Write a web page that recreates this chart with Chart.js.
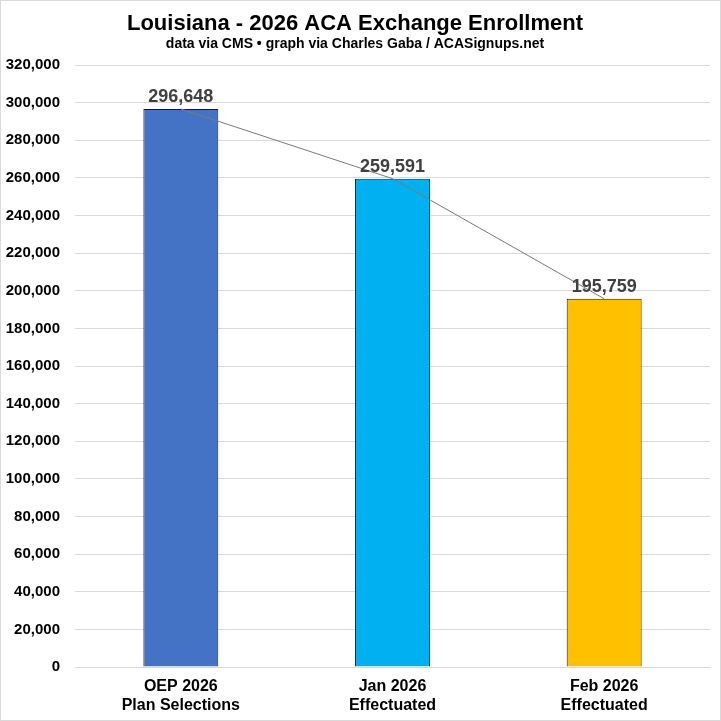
<!DOCTYPE html>
<html>
<head>
<meta charset="utf-8">
<script src="https://cdn.jsdelivr.net/npm/chart.js@4"></script>
<style>
  html, body { margin: 0; padding: 0; background: #fff; }
  #wrap { width: 721px; height: 721px; }
</style>
</head>
<body>
<div id="wrap"><canvas id="enrollment"></canvas></div>
<script>
const categories = [
    ['OEP 2026', 'Plan Selections'],
    ['Jan 2026', 'Effectuated'],
    ['Feb 2026', 'Effectuated']
];
const enrollment = [296648, 259591, 195759];
const yMax = 320000;
const yStep = 20000;

const barColors = ['#4472C4', '#00B0F0', '#FFC000'];
const FONT = '"Liberation Sans", Arial, sans-serif';

// white background + thin frame round the whole picture
const frame = {
    id: 'frame',
    beforeDraw(chart) {
        const ctx = chart.ctx;
        ctx.save();
        ctx.fillStyle = '#fff';
        ctx.fillRect(0, 0, chart.width, chart.height);
        ctx.restore();
    },
    afterDraw(chart) {
        const ctx = chart.ctx;
        ctx.save();
        ctx.strokeStyle = '#d9d9d9';
        ctx.lineWidth = 1;
        ctx.strokeRect(0.5, 0.5, chart.width - 1, chart.height - 1);
        ctx.restore();
    }
};

// value labels above each bar
const valueLabels = {
    id: 'valueLabels',
    afterDatasetsDraw(chart) {
        const meta = chart.getDatasetMeta(1);
        const ctx = chart.ctx;
        ctx.save();
        ctx.font = 'bold 18px ' + FONT;
        ctx.fillStyle = '#404040';
        ctx.textAlign = 'center';
        ctx.textBaseline = 'bottom';
        meta.data.forEach((bar, i) => {
            ctx.fillText(enrollment[i].toLocaleString('en-US'), bar.x, bar.y - 3);
        });
        ctx.restore();
    }
};

new Chart(
    document.getElementById('enrollment'),
    {
        data: {
            labels: categories,
            datasets: [
                {
                    type: 'line',
                    label: 'Trend',
                    data: enrollment,
                    borderColor: '#7a7a7a',
                    borderWidth: 1,
                    pointRadius: 0,
                    tension: 0,
                    order: 0
                },
                {
                    type: 'bar',
                    label: 'Enrollment',
                    data: enrollment,
                    backgroundColor: barColors,
                    borderColor: '#1a1a1a',
                    borderWidth: 1,
                    barPercentage: 0.354,
                    categoryPercentage: 1,
                    order: 1
                }
            ]
        },
        options: {
            responsive: true,
            maintainAspectRatio: false,
            animation: false,
            layout: {
                padding: { left: 0, right: 11, top: 0, bottom: 5.6 }
            },
            plugins: {
                legend: { display: false },
                tooltip: { enabled: false },
                title: {
                    display: true,
                    text: 'Louisiana - 2026 ACA Exchange Enrollment',
                    color: '#000',
                    font: { family: FONT, size: 22, weight: 'bold', lineHeight: 1.1 },
                    padding: { top: 12, bottom: 0 }
                },
                subtitle: {
                    display: true,
                    text: 'data via CMS \u2022 graph via Charles Gaba / ACASignups.net',
                    color: '#000',
                    font: { family: FONT, size: 14, weight: 'bold', lineHeight: 1.2 },
                    padding: { top: 0, bottom: 12 }
                }
            },
            scales: {
                x: {
                    afterFit(scale) { scale.height = 48.4; },
                    grid: { display: false, drawTicks: false },
                    border: { display: true, color: '#d9d9d9' },
                    ticks: {
                        color: '#000',
                        padding: 10,
                        maxRotation: 0,
                        font: { family: FONT, size: 16, weight: 'bold', lineHeight: 1.2 }
                    }
                },
                y: {
                    min: 0,
                    max: yMax,
                    afterFit(scale) { scale.width = 75; },
                    grid: { color: '#d9d9d9', drawTicks: false },
                    border: { display: false },
                    ticks: {
                        stepSize: yStep,
                        padding: 15,
                        color: '#000',
                        font: { family: FONT, size: 15, weight: 'bold' },
                        callback: v => v.toLocaleString('en-US')
                    }
                }
            }
        },
        plugins: [frame, valueLabels]
    }
);
</script>
</body>
</html>
